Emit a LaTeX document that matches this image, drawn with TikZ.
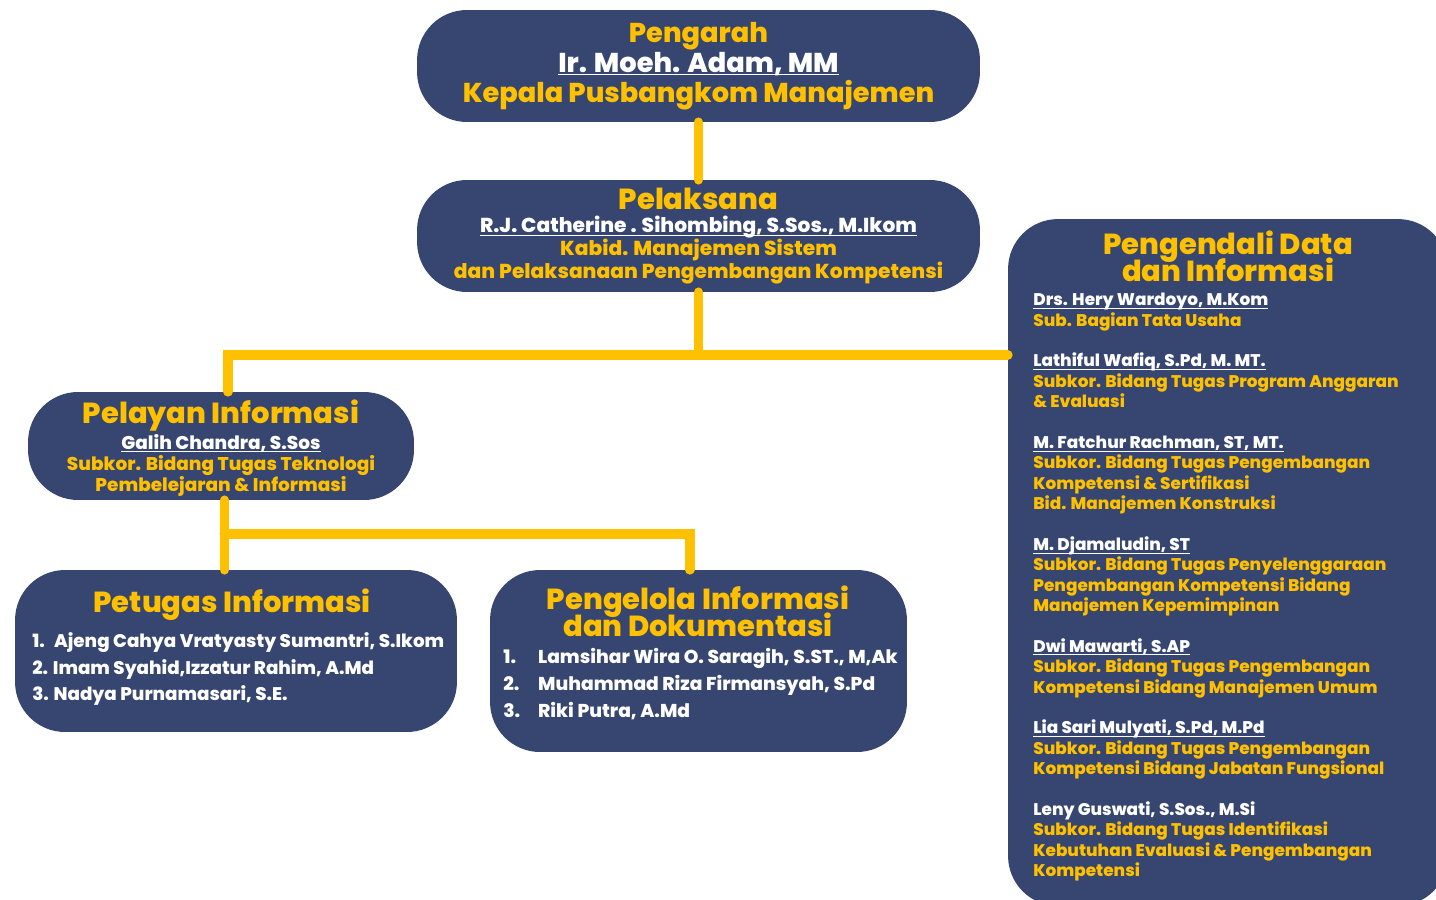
\documentclass[tikz,border=0pt]{standalone}
\usepackage{fontspec}
\setmainfont{Poppins}[BoldFont={Poppins ExtraBold}]
\usetikzlibrary{positioning}
\definecolor{navy}{RGB}{54,70,112}
\definecolor{gold}{RGB}{255,192,0}
\tikzset{
  unitbox/.style={fill=navy, rounded corners=1cm, inner sep=0pt},
  boxtext/.style={text=white, align=center, inner sep=0pt},
  conn/.style={draw=gold, line width=5.6pt, line cap=round},
}
\newcommand{\sz}[2]{\fontsize{#1}{#2}\selectfont\bfseries\lineskiplimit=-20pt}
\newcommand{\ttl}[1]{{\color{gold}\fontsize{16.5}{17}\selectfont\bfseries #1}}
\newcommand{\gd}[1]{\textcolor{gold}{#1}}
\newcommand{\nm}[1]{\setbox0\hbox{#1}\rlap{\rule[-1.8pt]{\wd0}{0.6pt}}\box0}
\newcommand{\num}[1]{\makebox[19.8pt][l]{#1}}
\begin{document}
\begin{tikzpicture}[x=0.02cm,y=-0.02cm]
        \useasboundingbox (0,0) rectangle (1436,899);
        \clip (0,0) rectangle (1436,899);
        % top two boxes
        \node[unitbox, minimum width=11.26cm, minimum height=2.24cm] (pengarah) at (698.5,66) {};
        \node[boxtext, font=\sz{15.5}{17}] (pengarahT) at (698.5,66) {\gd{Pengarah}\\ \nm{Ir. Moeh. Adam, MM}\\ \gd{Kepala Pusbangkom Manajemen}};
        \node[unitbox, minimum width=11.26cm, minimum height=2.24cm] (pelaksana) at (698.5,236) {};
        \node[boxtext, font=\sz{11.5}{13}] (pelaksanaT) at (698.5,236) {\ttl{Pelaksana}\\
            \nm{R.J. Catherine . Sihombing, S.Sos., M.Ikom}\\ \gd{Kabid. Manajemen Sistem}\\ \gd{dan Pelaksanaan Pengembangan Kompetensi}};
        % side box
        \node[unitbox, minimum width=8.8cm, minimum height=13.74cm] (pengendali) at (1228,562.5) {};
        \node[boxtext, font=\sz{16.5}{15.3}] (pengendaliT) at (1228,256) {\ttl{Pengendali Data}\\ \ttl{dan Informasi}};
        \node[boxtext, align=left, anchor=north west, font=\sz{9.6}{11.6}] (pengendaliL) at (1033,293) {%
            \nm{Drs. Hery Wardoyo, M.Kom}\\ \gd{Sub. Bagian Tata Usaha}\\[11.6pt]
            \nm{Lathiful Wafiq, S.Pd, M. MT.}\\ \gd{Subkor. Bidang Tugas Program Anggaran}\\ \gd{\& Evaluasi}\\[11.6pt]
            \nm{M. Fatchur Rachman, ST, MT.}\\ \gd{Subkor. Bidang Tugas Pengembangan}\\ \gd{Kompetensi \& Sertifikasi}\\ \gd{Bid. Manajemen Konstruksi}\\[11.6pt]
            \nm{M. Djamaludin, ST}\\ \gd{Subkor. Bidang Tugas Penyelenggaraan}\\ \gd{Pengembangan Kompetensi Bidang}\\ \gd{Manajemen Kepemimpinan}\\[11.6pt]
            \nm{Dwi Mawarti, S.AP}\\ \gd{Subkor. Bidang Tugas Pengembangan}\\ \gd{Kompetensi Bidang Manajemen Umum}\\[11.6pt]
            \nm{Lia Sari Mulyati, S.Pd, M.Pd}\\ \gd{Subkor. Bidang Tugas Pengembangan}\\ \gd{Kompetensi Bidang Jabatan Fungsional}\\[11.6pt]
            Leny Guswati, S.Sos., M.Si\\ \gd{Subkor. Bidang Tugas Identifikasi}\\ \gd{Kebutuhan Evaluasi \& Pengembangan}\\ \gd{Kompetensi}};
        % left branch
        \node[unitbox, minimum width=7.72cm, minimum height=2.16cm] (pelayan) at (221,446) {};
        \node[boxtext, font=\sz{10.5}{12}] (pelayanT) at (221,448) {\ttl{Pelayan Informasi}\\[2.5pt]
            \nm{Galih Chandra, S.Sos}\\ \gd{Subkor. Bidang Tugas Teknologi}\\ \gd{Pembelejaran \& Informasi}};
        \node[unitbox, minimum width=8.84cm, minimum height=3.24cm] (petugas) at (236,651) {};
        \node[boxtext] (petugasT) at (232,605) {\ttl{Petugas Informasi}};
        \node[boxtext, align=left, anchor=west, font=\sz{10.4}{15.3}] (petugasL) at (32,669) {%
            1.\enspace Ajeng Cahya Vratyasty Sumantri, S.Ikom\\ 2. Imam Syahid,Izzatur Rahim, A.Md\\ 3. Nadya Purnamasari, S.E.};
        \node[unitbox, minimum width=8.34cm, minimum height=3.64cm] (pengelola) at (698.5,661) {};
        \node[boxtext, font=\sz{16.5}{15.3}] (pengelolaT) at (698,611) {\ttl{Pengelola Informasi}\\ \ttl{dan Dokumentasi}};
        \node[boxtext, align=left, anchor=west, font=\sz{10.6}{15.3}] (pengelolaL) at (503,684) {%
            \num{1.}Lamsihar Wira O. Saragih, S.ST., M,Ak\\ \num{2.}Muhammad Riza Firmansyah, S.Pd\\ \num{3.}Riki Putra, A.Md};
        % connectors
        \coordinate (bus) at (698.5,355);
        \coordinate (split) at (225,534);
        \draw[conn] (pengarah) -- (pelaksana);
        \draw[conn] (pelaksana.south) -- (bus);
        \draw[conn] ([xshift=4pt]pelayan.north) |- (bus) -- (pengendali.west |- bus);
        \draw[conn] ([xshift=2pt]pelayan.south) -- ([xshift=2pt]pelayan.south |- petugas.north);
        \draw[conn] ([xshift=2pt]pelayan.south |- split) -| ([xshift=-5pt]pengelola.north);
\end{tikzpicture}
\end{document}
